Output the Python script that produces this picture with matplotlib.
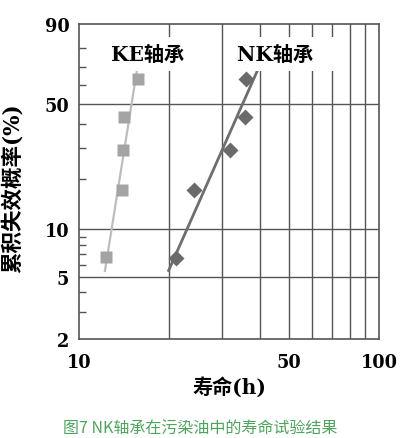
import numpy as np
import matplotlib
matplotlib.use("Agg")
import matplotlib.pyplot as plt
from matplotlib.ticker import FixedLocator, NullFormatter, FixedFormatter

# ---- data ----
ke_life = [12.3, 13.9, 14.05, 14.1, 15.7]
ke_fail = [6.7, 17.4, 29.1, 43.6, 63.6]
nk_life = [21.0, 24.2, 31.8, 35.8, 36.0]
nk_fail = [6.6, 17.3, 29.1, 43.6, 63.6]
ke_fit_life = [12.2, 15.65]
ke_fit_fail = [5.46, 69.6]
nk_fit_life = [19.9, 39.8]
nk_fit_fail = [5.5, 70.0]

y_major = [2, 5, 10, 50, 90]
y_minor = [3, 4, 6, 7, 8, 9, 20, 30, 40, 60, 70, 80]
y_grid = [5, 10, 50]
x_major = [10, 50, 100]
x_grid = [20, 30, 40, 50, 60, 70, 80, 90]

serif = ['DejaVu Serif', 'Noto Sans CJK SC']
grid_c = '#555555'


def weib(p):
    p = np.clip(np.asarray(p, dtype=float), 1e-6, 99.9999)
    return np.log(-np.log(1 - p / 100.0))


def weib_inv(w):
    return 100.0 * (1 - np.exp(-np.exp(np.asarray(w, dtype=float))))


fig = plt.figure(figsize=(4.01, 4.39), dpi=100)
ax = fig.add_axes([0.197, 0.2255, 0.748, 0.7175])
ax.set_xscale('log')
ax.set_yscale('function', functions=(weib, weib_inv))
ax.set_xlim(10, 100)
ax.set_ylim(2, 90)

ax.xaxis.set_major_locator(FixedLocator(x_major))
ax.xaxis.set_major_formatter(FixedFormatter([str(v) for v in x_major]))
ax.xaxis.set_minor_locator(FixedLocator(x_grid))
ax.xaxis.set_minor_formatter(NullFormatter())
ax.yaxis.set_major_locator(FixedLocator(y_major))
ax.yaxis.set_major_formatter(FixedFormatter([str(v) for v in y_major]))
ax.yaxis.set_minor_locator(FixedLocator(y_minor))
ax.yaxis.set_minor_formatter(NullFormatter())

for v in x_grid:
    ax.axvline(v, color=grid_c, lw=1.0, zorder=1)
for v in y_grid:
    ax.axhline(v, color=grid_c, lw=1.0, zorder=1)

ax.tick_params(axis='x', which='both', length=0, pad=10)
ax.tick_params(axis='y', which='major', length=0, pad=7)
ax.tick_params(axis='y', which='minor', direction='in', length=5, width=1.0, color=grid_c)
for lab in ax.get_xticklabels() + ax.get_yticklabels():
    lab.set_fontfamily(serif)
    lab.set_fontweight('bold')
    lab.set_fontsize(12.8)

for s in ax.spines.values():
    s.set_color(grid_c)
    s.set_linewidth(1.2)

# fitted lines and points
ax.plot(ke_fit_life, ke_fit_fail, color='#bdbdbd', lw=1.6, zorder=3)
ax.plot(nk_fit_life, nk_fit_fail, color='#6e6e6e', lw=2.0, zorder=3)
ax.plot(ke_life, ke_fail, 's', color='#a4a4a4', ms=8, mec='none', zorder=4)
ax.plot(nk_life, nk_fail, 'D', color='#6a6a6a', ms=8, mec='none', zorder=4)

# series labels (white background breaks the grid lines)
ax.text(0.227, 0.905, 'KE轴承', transform=ax.transAxes, ha='center', va='center',
        fontsize=14.5, fontweight='bold', family=serif, zorder=5,
        bbox=dict(boxstyle='square,pad=0.35', fc='white', ec='none'))
ax.text(0.527, 0.905, 'NK轴承  ', transform=ax.transAxes, ha='left', va='center',
        fontsize=14.5, fontweight='bold', family=serif, zorder=5,
        bbox=dict(boxstyle='square,pad=0.35', fc='white', ec='none'))

ax.set_xlabel('寿命(h)', fontsize=14.5, fontweight='bold', family=serif, labelpad=4)
fig.text(0.032, 1 - 188 / 439, '累积失效概率(%)', rotation=90, ha='center', va='center',
         fontsize=15.5, fontweight='bold', family=serif)

fig.text(0.5, 1 - 428 / 439, '图7 NK轴承在污染油中的寿命试验结果', ha='center', va='center',
         fontsize=11.5, color='#4fa35d', family=['Noto Sans CJK SC', 'DejaVu Sans'])

fig.savefig('out.png', dpi=100, facecolor='white')
